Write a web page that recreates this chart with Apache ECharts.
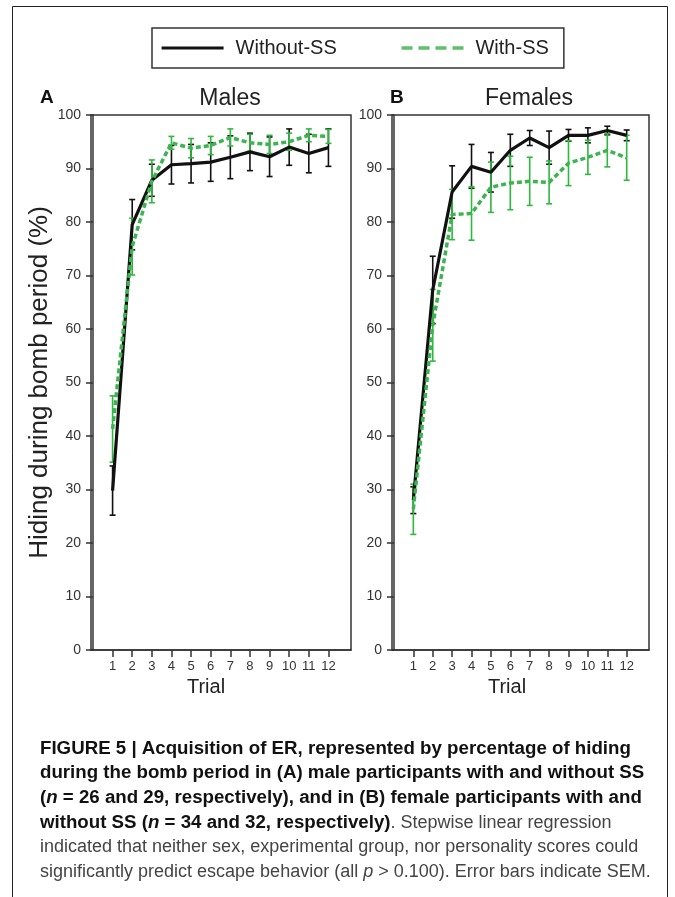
<!DOCTYPE html>
<html>
<head>
<meta charset="utf-8">
<script src="https://cdn.jsdelivr.net/npm/echarts@6/dist/echarts.min.js"></script>
<style>
html,body{margin:0;padding:0;background:#fff;}
#chart{width:675px;height:897px;}
</style>
</head>
<body>
<div id="chart"></div>
<script>
// 试次
var TRIALS=[1,2,3,4,5,6,7,8,9,10,11,12];

// A 男性: 均值 / SEM
var MALE_WITHOUT_MEAN=[29.8,79.5,87.8,90.7,90.9,91.2,92.1,93.1,92.2,94.0,92.8,93.9];
var MALE_WITHOUT_SEM=[4.6,4.7,3.0,3.6,3.6,3.6,4.0,3.5,3.7,3.4,3.6,3.5];
var MALE_WITH_MEAN=[41.3,75.4,87.6,94.8,93.8,94.3,95.8,94.8,94.5,95.0,96.2,96.0];
var MALE_WITH_SEM=[6.2,5.3,4.0,1.2,1.8,1.7,1.6,1.6,1.7,1.6,1.2,1.3];

// B 女性: 均值 / SEM
var FEMALE_WITHOUT_MEAN=[28.0,67.3,85.6,90.4,89.3,93.4,95.7,93.9,96.2,96.2,97.1,96.2];
var FEMALE_WITHOUT_SEM=[2.5,6.3,4.9,4.1,3.7,3.0,1.4,3.1,1.1,1.4,0.8,1.0];
var FEMALE_WITH_MEAN=[26.3,60.7,81.4,81.6,86.5,87.3,87.6,87.4,91.0,92.1,93.4,92.0];
var FEMALE_WITH_SEM=[4.7,6.7,4.7,5.0,4.7,5.0,4.5,4.0,4.2,3.2,3.1,4.2];

var BLACK='#111';
var GREEN='#3cb44f';
var GREEN_BAR='#2eb83e';
var AXIS_COLOR='#333';
var FONT='"Liberation Sans", Arial, sans-serif';

function meanData(mean){
    return TRIALS.map(function(t,i){ return [t,mean[i]]; });
}
function barData(mean,sem){
    return TRIALS.map(function(t,i){ return [t,mean[i]-sem[i],mean[i]+sem[i]]; });
}

// 误差线
function errorBarItem(params,api){
    var x=api.value(0);
    var top=api.coord([x,api.value(2)]);
    var bot=api.coord([x,api.value(1)]);
    var w=3;
    var style={stroke:api.visual('color'),lineWidth:1.6};
    return {
        type:'group',
        children:[
            {type:'line',shape:{x1:top[0],y1:top[1],x2:bot[0],y2:bot[1]},style:style},
            {type:'line',shape:{x1:top[0]-w,y1:top[1],x2:top[0]+w,y2:top[1]},style:style},
            {type:'line',shape:{x1:bot[0]-w,y1:bot[1],x2:bot[0]+w,y2:bot[1]},style:style}
        ]
    };
}

function xAxisCfg(gridIndex,shift){
    return {
        type:'value',gridIndex:gridIndex,min:-0.1,max:13.15,
        name:'Trial',nameLocation:'middle',nameGap:26,
        nameTextStyle:{fontSize:20,color:'#222',fontFamily:FONT,padding:[0,shift,0,0]},
        axisLine:{show:true,lineStyle:{color:AXIS_COLOR,width:1.5}},
        axisTick:{show:true,inside:false,length:7,lineStyle:{color:AXIS_COLOR,width:1.5},customValues:TRIALS},
        axisLabel:{show:true,margin:10,fontSize:13,color:'#333',fontFamily:FONT,customValues:TRIALS},
        splitLine:{show:false}
    };
}
function yAxisCfg(gridIndex,name){
    return {
        type:'value',gridIndex:gridIndex,min:0,max:100,interval:10,
        name:name,nameLocation:'middle',nameGap:38,
        nameTextStyle:{fontSize:26,color:'#222',fontFamily:FONT},
        axisLine:{show:true,lineStyle:{color:AXIS_COLOR,width:1.5}},
        axisTick:{show:true,inside:false,length:7,lineStyle:{color:AXIS_COLOR,width:1.5}},
        axisLabel:{margin:10,fontSize:14,color:'#333',fontFamily:FONT},
        splitLine:{show:false}
    };
}

function lineSeries(name,idx,mean,color,dashed){
    return {
        name:name,type:'line',xAxisIndex:idx,yAxisIndex:idx,
        data:meanData(mean),symbol:'none',showSymbol:false,z:dashed?4:3,
        itemStyle:{color:color},
        lineStyle:{color:color,width:dashed?3.5:3.2,type:dashed?[5,3]:'solid'}
    };
}
function barSeries(name,idx,mean,sem,color,z){
    return {
        name:name,type:'custom',xAxisIndex:idx,yAxisIndex:idx,
        data:barData(mean,sem),renderItem:errorBarItem,z:z,
        itemStyle:{color:color},encode:{x:0,y:[1,2]}
    };
}

var captionRich={
    b:{fontFamily:FONT,fontWeight:'bold',fontSize:18.7,fill:'#111'},
    bi:{fontFamily:FONT,fontWeight:'bold',fontStyle:'italic',fontSize:18.7,fill:'#111'},
    r:{fontFamily:FONT,fontSize:18,fill:'#444'},
    ri:{fontFamily:FONT,fontStyle:'italic',fontSize:18,fill:'#444'}
};
var CAPTION_LINES=[
    '{b|FIGURE 5 | Acquisition of ER, represented by percentage of hiding}',
    '{b|during the bomb period in (A) male participants with and without SS}',
    '{b|(}{bi|n}{b| = 26 and 29, respectively), and in (B) female participants with and}',
    '{b|without SS (}{bi|n}{b| = 34 and 32, respectively)}{r|. Stepwise linear regression}',
    '{r|indicated that neither sex, experimental group, nor personality scores could}',
    '{r|significantly predict escape behavior (all }{ri|p}{r| > 0.100). Error bars indicate SEM.}'
];
var captionGraphics=CAPTION_LINES.map(function(t,i){
    return {
        type:'text',left:40,top:739+i*24.8,
        style:{text:t,rich:captionRich,fontSize:18,fontFamily:FONT}
    };
});

var chart=echarts.init(document.getElementById('chart'));
var option={
    backgroundColor:'#fff',
    animation:false,
    legend:{
        left:152,top:28,
        padding:[10,15,10,8],
        borderColor:'#333',borderWidth:1.5,
        itemWidth:62,itemHeight:14,itemGap:63,
        itemStyle:{opacity:0},
        textStyle:{fontSize:20,color:'#222',fontFamily:FONT,padding:[0,0,0,7]},
        data:[
            {name:'Without-SS',lineStyle:{width:3.2,color:'#111'}},
            {name:'With-SS',lineStyle:{type:[11,6],width:3.5,color:'#5cc06c'}}
        ]
    },
    grid:[
        {left:91,top:115,width:260,height:535,show:true,borderColor:AXIS_COLOR,borderWidth:1.5,backgroundColor:'#fff'},
        {left:392,top:115,width:257,height:535,show:true,borderColor:AXIS_COLOR,borderWidth:1.5,backgroundColor:'#fff'}
    ],
    xAxis:[xAxisCfg(0,30),xAxisCfg(1,27)],
    yAxis:[yAxisCfg(0,'Hiding during bomb period (%)'),yAxisCfg(1,'')],
    series:[
        barSeries('male-without-err',0,MALE_WITHOUT_MEAN,MALE_WITHOUT_SEM,BLACK,2),
        lineSeries('Without-SS',0,MALE_WITHOUT_MEAN,BLACK,false),
        barSeries('male-with-err',0,MALE_WITH_MEAN,MALE_WITH_SEM,GREEN_BAR,3),
        lineSeries('With-SS',0,MALE_WITH_MEAN,GREEN,true),
        barSeries('female-without-err',1,FEMALE_WITHOUT_MEAN,FEMALE_WITHOUT_SEM,BLACK,2),
        lineSeries('Without-SS',1,FEMALE_WITHOUT_MEAN,BLACK,false),
        barSeries('female-with-err',1,FEMALE_WITH_MEAN,FEMALE_WITH_SEM,GREEN_BAR,3),
        lineSeries('With-SS',1,FEMALE_WITH_MEAN,GREEN,true)
    ],
    graphic:[
        {type:'rect',shape:{x:12.5,y:6.5,width:655,height:920},style:{fill:'none',stroke:'#222',lineWidth:1},silent:true,z:-1},
        {type:'text',left:40,top:88,style:{text:'A',fontSize:19,fontWeight:'bold',fontFamily:FONT,fill:'#111'}},
        {type:'text',left:390,top:88,style:{text:'B',fontSize:19,fontWeight:'bold',fontFamily:FONT,fill:'#111'}},
        {type:'text',x:230,y:99,style:{text:'Males',fontSize:23,fontFamily:FONT,fill:'#222',align:'center',verticalAlign:'middle'}},
        {type:'text',x:529,y:99,style:{text:'Females',fontSize:23,fontFamily:FONT,fill:'#222',align:'center',verticalAlign:'middle'}}
    ].concat(captionGraphics)
};
chart.setOption(option);
</script>
</body>
</html>
